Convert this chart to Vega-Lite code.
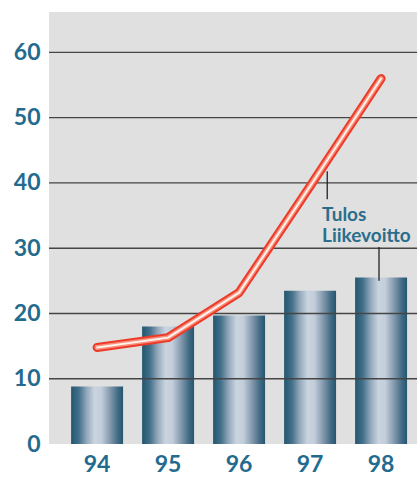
{
  "$schema": "https://vega.github.io/schema/vega-lite/v6.json",
  "width": 368,
  "height": 432,
  "autosize": {"type": "none"},
  "padding": {"left": 49, "top": 12, "right": 0, "bottom": 33},
  "background": "white",
  "config": {"view": {"fill": "#e0e0e0", "stroke": null}, "font": "Lato"},
  "datasets": {
    "main": [
      {"year": "94", "liikevoitto": 8.8, "tulos": 14.8},
      {"year": "95", "liikevoitto": 18.0, "tulos": 16.3},
      {"year": "96", "liikevoitto": 19.7, "tulos": 23.2},
      {"year": "97", "liikevoitto": 23.5, "tulos": 39.5},
      {"year": "98", "liikevoitto": 25.5, "tulos": 56.0}
    ],
    "grid": [{"g": 10}, {"g": 20}, {"g": 30}, {"g": 40}, {"g": 50}, {"g": 60}],
    "labels": [
      {"year": "97", "label": "Tulos", "pos": 34.2},
      {"year": "97", "label": "Liikevoitto", "pos": 31.0}
    ],
    "lead1": [{"year": "97", "top": 41.8, "bottom": 37.5}],
    "lead2": [{"year": "98", "top": 30.2, "bottom": 25.0}]
  },
  "layer": [
    {
      "data": {"name": "main"},
      "mark": {
        "type": "bar",
        "color": {
          "gradient": "linear", "x1": 0, "x2": 1, "y1": 0, "y2": 0,
          "stops": [
            {"offset": 0, "color": "#23566f"},
            {"offset": 0.15, "color": "#42708a"},
            {"offset": 0.3, "color": "#93a8bb"},
            {"offset": 0.45, "color": "#c9d4df"},
            {"offset": 0.58, "color": "#c3cedb"},
            {"offset": 0.75, "color": "#8399ad"},
            {"offset": 0.9, "color": "#426b85"},
            {"offset": 1, "color": "#23566f"}
          ]
        }
      },
      "encoding": {
        "x": {
          "field": "year", "type": "ordinal", "title": null,
          "scale": {"paddingInner": 0.268, "paddingOuter": 0.2256, "align": 0.69},
          "axis": {
            "domain": false, "ticks": false, "labelAngle": 0,
            "labelFontSize": 23, "labelFontWeight": "bold", "labelColor": "#236b8e",
            "labelPadding": 9, "labelFont": "Lato"
          }
        },
        "y": {
          "field": "liikevoitto", "type": "quantitative", "title": null,
          "scale": {"domain": [0, 66.2], "nice": false, "zero": true},
          "axis": {
            "values": [0, 10, 20, 30, 40, 50, 60], "grid": false, "domain": false, "ticks": false,
            "labelFontSize": 23, "labelFontWeight": "bold", "labelColor": "#236b8e",
            "labelPadding": 9, "labelFont": "Lato"
          }
        }
      }
    },
    {
      "data": {"name": "grid"},
      "mark": {"type": "rule", "color": "#454545", "strokeWidth": 1.3},
      "encoding": {"y": {"field": "g", "type": "quantitative"}}
    },
    {
      "data": {"name": "main"},
      "mark": {"type": "line", "color": "#ee3a28", "strokeWidth": 9, "strokeCap": "round", "strokeJoin": "round"},
      "encoding": {
        "x": {"field": "year", "type": "ordinal"},
        "y": {"field": "tulos", "type": "quantitative"}
      }
    },
    {
      "data": {"name": "main"},
      "mark": {"type": "line", "color": "#f7907c", "strokeWidth": 5, "strokeCap": "round", "strokeJoin": "round"},
      "encoding": {
        "x": {"field": "year", "type": "ordinal"},
        "y": {"field": "tulos", "type": "quantitative"}
      }
    },
    {
      "data": {"name": "main"},
      "mark": {"type": "line", "color": "#fff2ec", "strokeWidth": 2, "strokeCap": "round", "strokeJoin": "round"},
      "encoding": {
        "x": {"field": "year", "type": "ordinal"},
        "y": {"field": "tulos", "type": "quantitative"}
      }
    },
    {
      "data": {"name": "lead1"},
      "mark": {"type": "rule", "color": "#222222", "strokeWidth": 1.3},
      "encoding": {
        "x": {"field": "year", "type": "ordinal", "bandPosition": 0.83},
        "y": {"field": "top", "type": "quantitative"},
        "y2": {"field": "bottom"}
      }
    },
    {
      "data": {"name": "lead2"},
      "mark": {"type": "rule", "color": "#222222", "strokeWidth": 1.3},
      "encoding": {
        "x": {"field": "year", "type": "ordinal", "bandPosition": 0.46},
        "y": {"field": "top", "type": "quantitative"},
        "y2": {"field": "bottom"}
      }
    },
    {
      "data": {"name": "labels"},
      "mark": {"type": "text", "align": "left", "baseline": "alphabetic", "fontSize": 19, "fontWeight": "bold", "color": "#2a6e8c", "font": "Lato"},
      "encoding": {
        "x": {"field": "year", "type": "ordinal", "bandPosition": 0.73},
        "y": {"field": "pos", "type": "quantitative"},
        "text": {"field": "label"}
      }
    }
  ]
}
